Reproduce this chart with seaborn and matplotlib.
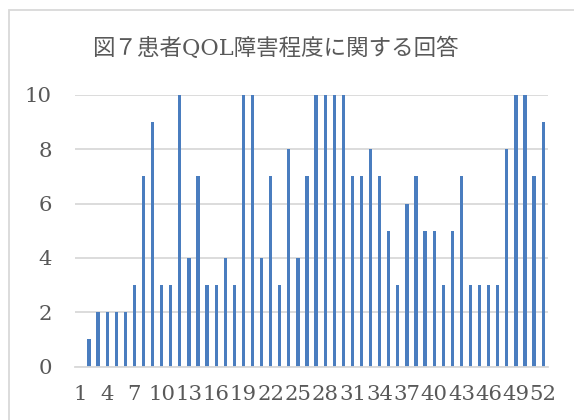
import numpy as np
import pandas as pd
import seaborn as sns
import matplotlib.pyplot as plt
from matplotlib.patches import Rectangle

# Data
categories = [str(i) for i in range(1, 53)]
answers = [0, 1, 2, 2, 2, 2, 3, 7, 9, 3, 3,
           10, 4, 7, 3, 3, 4, 3, 10, 10, 4,
           7, 3, 8, 4, 7, 10, 10, 10, 10, 7,
           7, 8, 7, 5, 3, 6, 7, 5, 5, 3,
           5, 7, 3, 3, 3, 3, 8, 10, 10, 7,
           9]
y_ticks = [0, 2, 4, 6, 8, 10]
title = "図７患者QOL障害程度に関する回答"

df = pd.DataFrame({"no": categories, "score": answers})

sns.set_theme(style="white")
plt.rcParams['font.family'] = ['DejaVu Serif', 'Noto Sans CJK JP']

fig = plt.figure(figsize=(5.74, 4.2), dpi=100)
ax = fig.add_axes([75.4 / 574, 1 - 366.5 / 420, (547.7 - 75.4) / 574, (366.5 - 95) / 420])

sns.barplot(data=df, x="no", y="score", color="#4A7DBF", saturation=1,
            width=0.36, linewidth=0, ax=ax)

ax.set_ylim(0, 10)
ax.set_xlim(-0.5, len(categories) - 0.5)
ax.set_yticks(y_ticks)
ax.set_yticklabels([str(t) for t in y_ticks])
ax.set_xticks(range(0, len(categories), 3))
ax.set_xticklabels(categories[::3])
ax.set_xlabel("")
ax.set_ylabel("")

ax.grid(axis="y", color="#D9D9D9", linewidth=1.3)
ax.set_axisbelow(True)
for s in ["top", "right", "left"]:
    ax.spines[s].set_visible(False)
ax.spines["bottom"].set_color("#D9D9D9")
ax.spines["bottom"].set_linewidth(1.3)
ax.tick_params(axis="both", length=0, labelsize=15.3, labelcolor="#595959")
ax.tick_params(axis="y", pad=17)
ax.tick_params(axis="x", pad=13)

fig.text(275 / 574, 1 - 49 / 420, title, ha="center", va="center",
         fontsize=16.2, color="#595959")

# chart area border (cut off at right and bottom)
fig.add_artist(Rectangle((9 / 574, -0.2), 1.2, 0.2 + 1 - 10 / 420,
                         transform=fig.transFigure, fill=False,
                         edgecolor="#D9D9D9", linewidth=1.3))

fig.savefig("out.png", dpi=100)
